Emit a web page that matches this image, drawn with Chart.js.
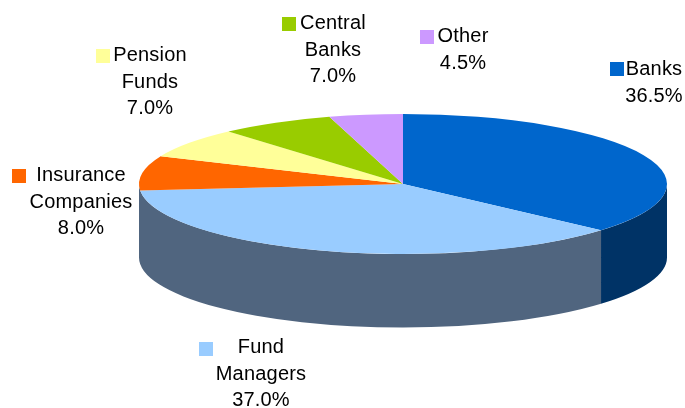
<!DOCTYPE html>
<html>
<head>
<meta charset="utf-8">
<style>html,body{margin:0;padding:0;background:#fff;overflow:hidden}canvas{display:block}</style>
<script src="https://cdn.jsdelivr.net/npm/chart.js@4"></script>
</head>
<body>
<canvas id="c" width="685" height="408"></canvas>
<script>
const categories = ['Banks', 'Fund Managers', 'Insurance Companies', 'Pension Funds', 'Central Banks', 'Other'];
const shares = [36.5, 37.0, 8.0, 7.0, 7.0, 4.5];
const topColors = ['#0066CC', '#99CCFF', '#FF6600', '#FFFF99', '#99CC00', '#CC99FF'];
const sideColors = ['#003366', '#50657F', null, null, null, null];
const labelLines = [['Banks'], ['Fund', 'Managers'], ['Insurance', 'Companies'], ['Pension', 'Funds'], ['Central', 'Banks'], ['Other']];
const labelCenterX = [654, 261, 81, 150, 333, 463];
const labelFirstBaseline = [75, 353, 181, 61, 29, 42];
const markerX = [610, 199, 12, 96, 282, 420];
const markerY = [62, 342, 169, 49, 17, 30];

const SQUASH = 70 / 264, DEPTH = 73.5, LINE = 26.7, MARKER = 14;

const pie3d = {
  id: 'pie3d',
  beforeDatasetsDraw(chart) {
    const ctx = chart.ctx;
    const arcs = chart.getDatasetMeta(0).data;
    const squash = (cx, cy) => {
      ctx.translate(cx, cy); ctx.scale(1, SQUASH); ctx.translate(-cx, -cy);
    };
    arcs.forEach((a, i) => {
      if (!sideColors[i]) return;
      const from = Math.max(a.startAngle, 0);
      const to = sideColors[i + 1] ? Math.min(a.endAngle, Math.PI) : Math.PI;
      if (to <= from) return;
      const drop = DEPTH / SQUASH;
      ctx.save();
      squash(a.x, a.y);
      ctx.beginPath();
      ctx.arc(a.x, a.y, a.outerRadius, from, to);
      ctx.arc(a.x, a.y + drop, a.outerRadius, to, from, true);
      ctx.closePath();
      ctx.fillStyle = sideColors[i];
      ctx.fill();
      ctx.restore();
    });
    ctx.save();
    squash(arcs[0].x, arcs[0].y);
  },
  afterDatasetsDraw(chart) {
    const ctx = chart.ctx;
    ctx.restore();
    ctx.save();
    ctx.font = '20px "Liberation Sans", Arial, sans-serif';
    ctx.letterSpacing = '0.2px';
    ctx.textAlign = 'center';
    ctx.textBaseline = 'alphabetic';
    categories.forEach((_, i) => {
      ctx.fillStyle = topColors[i];
      ctx.fillRect(markerX[i], markerY[i], MARKER, MARKER);
      ctx.fillStyle = '#000';
      const lines = labelLines[i].concat(shares[i].toFixed(1) + '%');
      lines.forEach((t, j) => ctx.fillText(t, labelCenterX[i], labelFirstBaseline[i] + j * LINE));
    });
    ctx.restore();
  }
};

new Chart(document.getElementById('c'), {
  type: 'pie',
  data: {
    labels: categories,
    datasets: [{ data: shares, backgroundColor: topColors, borderWidth: 0, radius: 264, clip: false }]
  },
  options: {
    responsive: false,
    animation: false,
    events: [],
    layout: { padding: { left: 121, bottom: 40 } },
    plugins: { legend: { display: false }, tooltip: { enabled: false } }
  },
  plugins: [pie3d]
});
</script>
</body>
</html>
